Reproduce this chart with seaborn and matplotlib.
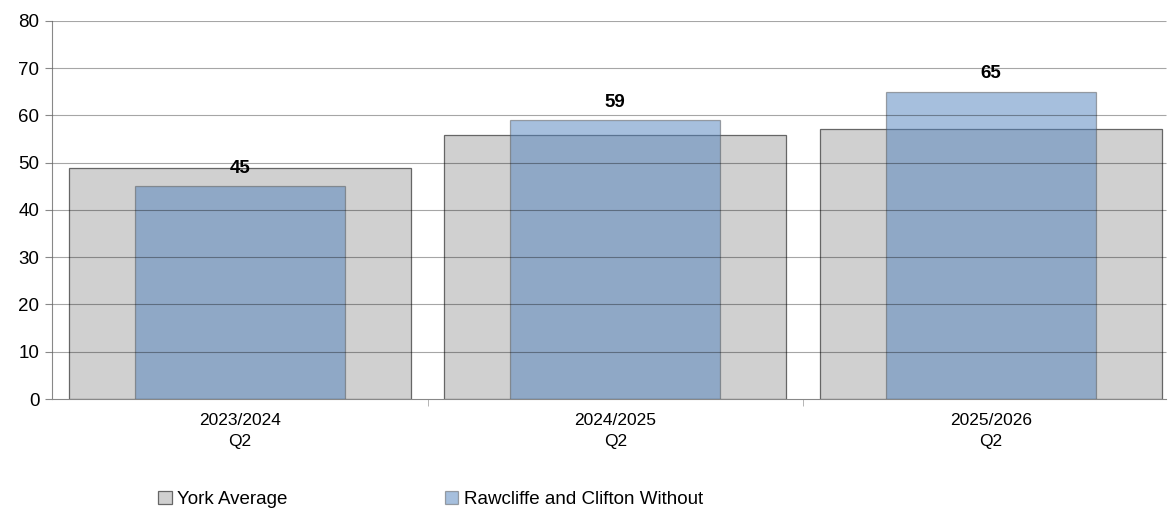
import pandas as pd
import numpy as np
import seaborn as sns
import matplotlib.pyplot as plt

# Data
periods = ['2023/2024\nQ2', '2024/2025\nQ2', '2025/2026\nQ2']
york_avg = [48.8, 55.8, 57.2]
rawcliffe = [45, 59, 65]

df = pd.DataFrame({'period': periods, 'york': york_avg, 'ward': rawcliffe})

sns.set_style('white')
plt.rcParams['font.family'] = ['Liberation Sans', 'DejaVu Sans']
plt.rcParams['text.color'] = 'black'
plt.rcParams['xtick.labelcolor'] = 'black'
plt.rcParams['ytick.labelcolor'] = 'black'

fig = plt.figure(figsize=(11.7, 5.12), dpi=100)
ax = fig.add_axes([0.0444, 0.2207, 0.963, 0.7383])

sns.barplot(data=df, x='period', y='york', color='#d0d0d0', width=0.91,
            edgecolor='#666666', linewidth=0.9, saturation=1, ax=ax,
            label='York Average', zorder=2)
sns.barplot(data=df, x='period', y='ward', color='#4f81bd', width=0.56,
            edgecolor='#555555', linewidth=0.9, saturation=1, alpha=0.5, ax=ax,
            label='Rawcliffe and Clifton Without', zorder=3)

# data labels on ward bars
for i, v in enumerate(rawcliffe):
    ax.text(i, v + 2.0, f'{v}', ha='center', va='bottom', fontsize=13.5,
            fontweight='bold', color='black', zorder=5)

ax.set_ylim(0, 80)
ax.set_xlim(-0.5, 2.5)
ax.set_yticks(np.arange(0, 81, 10))
# plot area stops a little short of the right edge
x_end = 2.465
ax.hlines(np.arange(10, 81, 10), -0.5, x_end, color='black', alpha=0.35,
          lw=0.8, zorder=4)

ax.set_xlabel('')
ax.set_ylabel('')
ax.tick_params(axis='y', labelsize=13.5, length=5, color='#888888', left=True,
               pad=4, labelcolor='black')
ax.tick_params(axis='x', which='major', labelsize=12.5, length=0, pad=10,
               labelcolor='black')
for lbl in ax.get_xticklabels():
    lbl.set_linespacing(1.5)
ax.set_xticks([0.5, 1.5], minor=True)
ax.tick_params(axis='x', which='minor', length=5, color='#aaaaaa', bottom=True)

for s in ['top', 'right']:
    ax.spines[s].set_visible(False)
ax.spines['left'].set_color('#888888')
ax.spines['bottom'].set_color('#888888')
ax.spines['bottom'].set_bounds(-0.5, x_end)

handles, labels = ax.get_legend_handles_labels()
ax.legend(handles, labels, ncol=2, loc='lower left',
          bbox_to_anchor=(0.121, -0.025), bbox_transform=fig.transFigure,
          frameon=False, fontsize=13.5, handlelength=0.7, handleheight=0.7,
          handletextpad=0.3, columnspacing=8.4, labelcolor='black')

fig.savefig('out.png', dpi=100)
